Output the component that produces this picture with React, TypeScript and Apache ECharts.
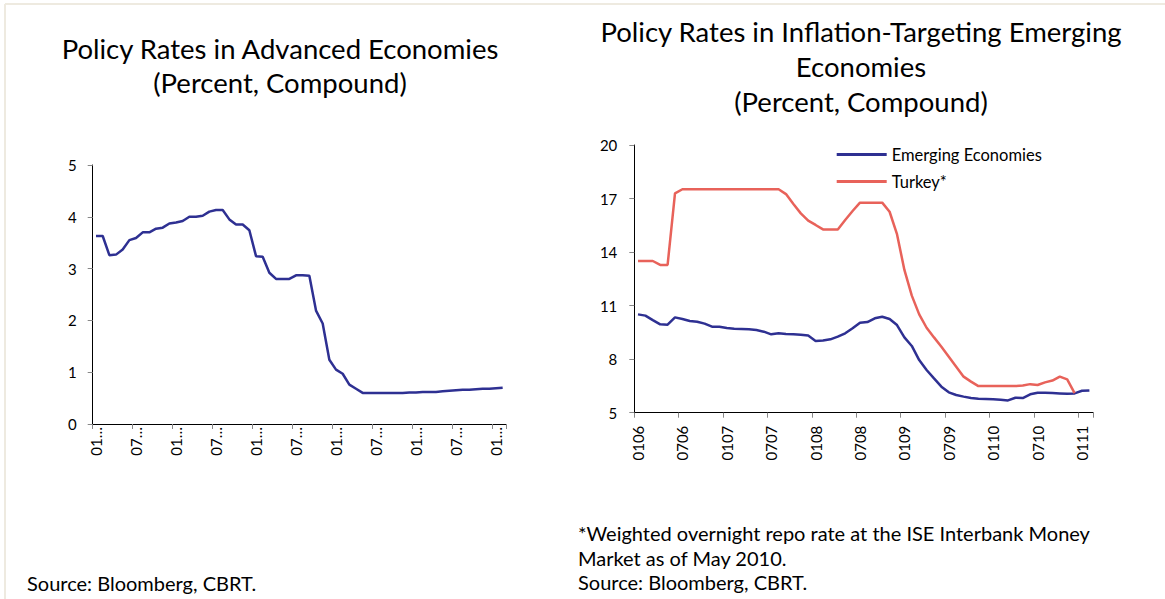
import React, { useEffect, useRef } from "react";
import * as echarts from "echarts";

// Months Jan 2006 .. Feb 2011 (62 monthly observations)
const YEARS = ["06", "07", "08", "09", "10", "11"];
const MONTH_CODES = ["01", "02", "03", "04", "05", "06", "07", "08", "09", "10", "11", "12"];
const N_MONTHS = 62;
const PERIODS: { m: string; y: string }[] = [];
for (const y of YEARS) for (const m of MONTH_CODES) if (PERIODS.length < N_MONTHS) PERIODS.push({ m, y });
const LEFT_CATEGORIES = PERIODS.map((p) => `${p.m}.20${p.y}`);
const RIGHT_CATEGORIES = PERIODS.map((p) => `${p.m}${p.y}`);

const ADVANCED = [
  3.63, 3.63, 3.26, 3.27, 3.37, 3.55, 3.59, 3.7, 3.7, 3.77,
  3.79, 3.87, 3.89, 3.92, 4.0, 4.0, 4.02, 4.1, 4.13, 4.13,
  3.95, 3.85, 3.85, 3.74, 3.24, 3.23, 2.92, 2.8, 2.8, 2.8,
  2.87, 2.87, 2.86, 2.19, 1.94, 1.24, 1.05, 0.97, 0.76, 0.68,
  0.6, 0.6, 0.6, 0.6, 0.6, 0.6, 0.6, 0.61, 0.61, 0.62,
  0.62, 0.62, 0.63, 0.64, 0.65, 0.66, 0.66, 0.67, 0.68, 0.68,
  0.69, 0.7,
];

const EMERGING = [
  10.51, 10.44, 10.19, 9.95, 9.93, 10.34, 10.25, 10.14, 10.1, 9.99,
  9.82, 9.82, 9.75, 9.71, 9.69, 9.67, 9.63, 9.54, 9.39, 9.45,
  9.41, 9.39, 9.37, 9.32, 9.02, 9.04, 9.11, 9.26, 9.45, 9.73,
  10.04, 10.08, 10.29, 10.38, 10.25, 9.91, 9.22, 8.74, 7.95, 7.39,
  6.92, 6.46, 6.14, 5.99, 5.9, 5.82, 5.78, 5.77, 5.75, 5.73,
  5.69, 5.84, 5.82, 6.03, 6.12, 6.12, 6.1, 6.08, 6.06, 6.08,
  6.23, 6.25,
];

const TURKEY = [
  13.5, 13.5, 13.5, 13.28, 13.28, 17.29, 17.52, 17.52, 17.52, 17.52,
  17.52, 17.52, 17.52, 17.52, 17.52, 17.52, 17.52, 17.52, 17.52, 17.52,
  17.25, 16.69, 16.17, 15.76, 15.52, 15.27, 15.27, 15.27, 15.8, 16.3,
  16.77, 16.77, 16.77, 16.77, 16.26, 15.0, 13.0, 11.56, 10.51, 9.76,
  9.22, 8.7, 8.14, 7.58, 7.02, 6.74, 6.49, 6.49, 6.49, 6.49,
  6.49, 6.49, 6.52, 6.6, 6.55, 6.7, 6.8, 7.02, 6.87, 6.1,
  null, null,
];

const LEFT_TITLE = "Policy Rates in Advanced Economies\n(Percent, Compound)";
const RIGHT_TITLE = "Policy Rates in Inflation-Targeting Emerging\nEconomies\n(Percent, Compound)";
const LEFT_NOTE = "Source: Bloomberg, CBRT.";
const RIGHT_NOTE = "*Weighted overnight repo rate at the ISE Interbank Money\nMarket as of May 2010.\nSource: Bloomberg, CBRT.";

const FONT = "Lato, 'Open Sans', sans-serif";
const BLUE = "#2E3092";
const RED = "#E8625A";
const FRAME = "#EEEAE0";

export default function App() {
  const ref = useRef<HTMLDivElement>(null);
  useEffect(() => {
    if (!ref.current) return;
    const chart = echarts.init(ref.current, undefined, { renderer: "svg" });
    const axisLine = { show: true, lineStyle: { color: "#000", width: 1 } };
    const axisTick = { show: true, length: 5, lineStyle: { color: "#888" } };
    chart.setOption({
      animation: false,
      backgroundColor: "#fff",
      grid: [
        { left: 92.7, top: 165, width: 413.3, height: 259, containLabel: false },
        { left: 634.3, top: 145, width: 458.8, height: 267.7, containLabel: false },
      ],
      xAxis: [
        {
          type: "category",
          gridIndex: 0,
          data: LEFT_CATEGORIES,
          boundaryGap: true,
          axisLine,
          axisTick: { ...axisTick, interval: 5, alignWithLabel: false },
          axisLabel: {
            interval: 5,
            rotate: 90,
            margin: 3,
            fontFamily: FONT,
            fontSize: 15,
            color: "#000",
            formatter: (v: string) => v.slice(0, 2) + "…",
          },
          splitLine: { show: false },
        },
        {
          type: "category",
          gridIndex: 1,
          data: RIGHT_CATEGORIES,
          boundaryGap: true,
          axisLine,
          axisTick: { ...axisTick, interval: 5, alignWithLabel: false },
          axisLabel: {
            interval: 5,
            rotate: 90,
            margin: 13,
            fontFamily: FONT,
            fontSize: 15,
            color: "#000",
          },
          splitLine: { show: false },
        },
      ],
      yAxis: [
        {
          type: "value",
          gridIndex: 0,
          min: 0,
          max: 5,
          interval: 1,
          axisLine,
          axisTick,
          axisLabel: { margin: 16, fontFamily: FONT, fontSize: 15, color: "#000" },
          splitLine: { show: false },
        },
        {
          type: "value",
          gridIndex: 1,
          min: 5,
          max: 20,
          interval: 3,
          axisLine,
          axisTick,
          axisLabel: { margin: 17, fontFamily: FONT, fontSize: 15, color: "#000" },
          splitLine: { show: false },
        },
      ],
      legend: {
        data: ["Emerging Economies", "Turkey*"],
        orient: "vertical",
        left: 836.7,
        top: 146,
        padding: 0,
        icon: "rect",
        itemWidth: 50,
        itemHeight: 3,
        itemGap: 10,
        itemTextGap: 5,
        textStyle: { fontFamily: FONT, fontSize: 16.5, color: "#000", lineHeight: 17 },
      },
      series: [
        {
          name: "Advanced Economies",
          type: "line",
          xAxisIndex: 0,
          yAxisIndex: 0,
          data: ADVANCED,
          symbol: "none",
          lineStyle: { color: BLUE, width: 2.5 },
          itemStyle: { color: BLUE },
        },
        {
          name: "Emerging Economies",
          type: "line",
          xAxisIndex: 1,
          yAxisIndex: 1,
          data: EMERGING,
          symbol: "none",
          lineStyle: { color: BLUE, width: 2.5 },
          itemStyle: { color: BLUE },
        },
        {
          name: "Turkey*",
          type: "line",
          xAxisIndex: 1,
          yAxisIndex: 1,
          data: TURKEY,
          symbol: "none",
          lineStyle: { color: RED, width: 2.5 },
          itemStyle: { color: RED },
        },
      ],
      graphic: [
        { type: "line", shape: { x1: 5, y1: 4, x2: 1165, y2: 4 }, style: { stroke: FRAME, lineWidth: 2 } },
        { type: "line", shape: { x1: 5, y1: 4, x2: 5, y2: 599 }, style: { stroke: FRAME, lineWidth: 2 } },
        {
          type: "text",
          x: 280,
          y: 31,
          style: { text: LEFT_TITLE, font: `27.5px ${FONT}`, fill: "#000", align: "center", verticalAlign: "top", lineHeight: 34 },
        },
        {
          type: "text",
          x: 861,
          y: 13.5,
          style: { text: RIGHT_TITLE, font: `27.5px ${FONT}`, fill: "#000", align: "center", verticalAlign: "top", lineHeight: 35 },
        },
        {
          type: "text",
          x: 27,
          y: 571,
          style: { text: LEFT_NOTE, font: `20px ${FONT}`, fill: "#000", align: "left", verticalAlign: "top", lineHeight: 24 },
        },
        {
          type: "text",
          x: 578,
          y: 521,
          style: { text: RIGHT_NOTE, font: `20px ${FONT}`, fill: "#000", align: "left", verticalAlign: "top", lineHeight: 24.5 },
        },
      ],
    });
    return () => chart.dispose();
  }, []);
  return (
    <div
      ref={ref}
      style={{ position: "fixed", left: 0, top: 0, width: 1165, height: 599 }}
    />
  );
}
